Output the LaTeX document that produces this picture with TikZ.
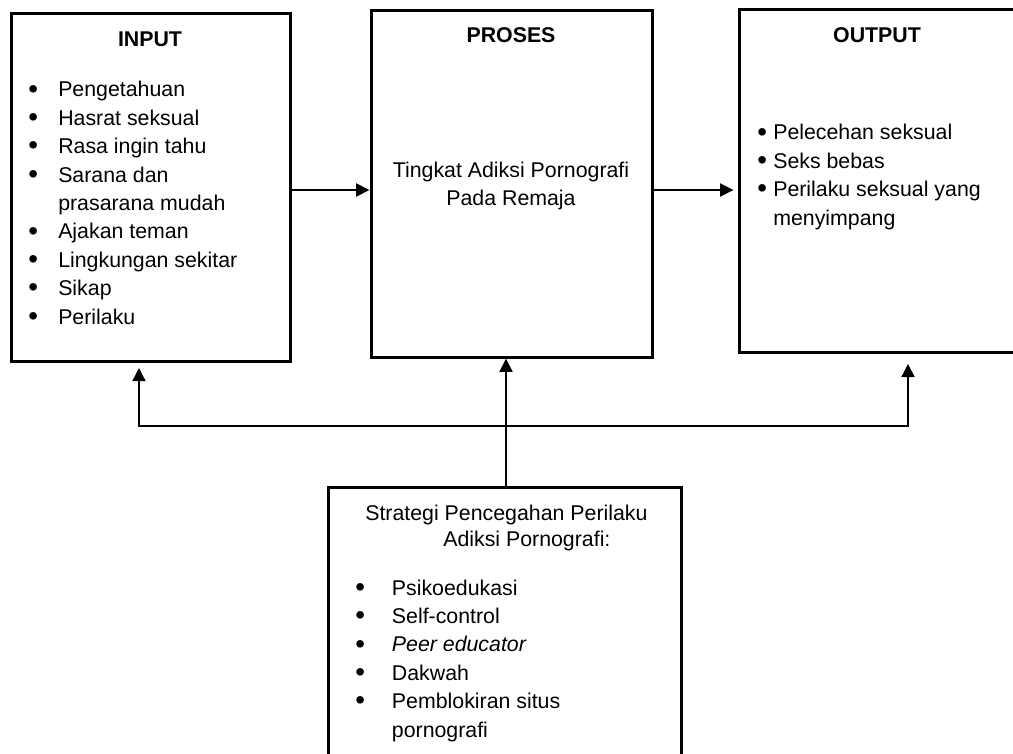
\documentclass[tikz,border=0pt]{standalone}
\usepackage{fontspec}
\setmainfont{Liberation Sans}
\usetikzlibrary{arrows.meta}
\newcommand{\blt}[1]{\makebox[#1][l]{\raisebox{-0.12ex}{\scalebox{1.3}{\textbullet}}}}

\begin{document}
\begin{tikzpicture}[
        x=0.75pt, y=-0.75pt,
        every node/.style={font=\fontsize{16pt}{21.3pt}\selectfont, inner sep=0pt},
        box/.style={draw, line width=2.25pt, rectangle},
        title/.style={font=\fontsize{16pt}{21.3pt}\selectfont\bfseries, anchor=base},
        list/.style={align=left, anchor=base west},
        arr/.style={line width=2.1pt, -{Triangle[length=10pt,width=9.5pt]}},
    ]
    \useasboundingbox (0,0) rectangle (1013,753);
    % boxes
    \node[box, minimum width=209.25pt, minimum height=261pt] (input) at (150.5,187) {};
    \node[box, minimum width=210.75pt, minimum height=260.25pt] (proses) at (511.5,183.5) {};
    \node[box, minimum width=207pt, minimum height=257.6pt] (output) at (877,181.25) {};
    \node[box, minimum width=264.75pt, minimum height=212.25pt] (strategi) at (504.5,628.5) {};
    % texts (base west = baseline of the last line)
    \node[title] (inputtitle) at (150,46) {INPUT};
    \node[title] (prosestitle) at (511,42) {PROSES};
    \node[title] (outputtitle) at (877,42) {OUTPUT};
    \node[list] (inputlist) at (28,324) {\blt{22.5pt}Pengetahuan\\
        \blt{22.5pt}Hasrat seksual\\
        \blt{22.5pt}Rasa ingin tahu\\
        \blt{22.5pt}Sarana dan\\
        \hspace*{22.5pt}prasarana mudah\\
        \blt{22.5pt}Ajakan teman\\
        \blt{22.5pt}Lingkungan sekitar\\
        \blt{22.5pt}Sikap\\
        \blt{22.5pt}Perilaku};
    \node[align=center] (prosestext) at (511,186) {Tingkat Adiksi Pornografi\\Pada Remaja};
    \node[list] (outputlist) at (757,225) {\blt{12pt}Pelecehan seksual\\
        \blt{12pt}Seks bebas\\
        \blt{12pt}Perilaku seksual yang\\
        \hspace*{12pt}menyimpang};
    \node[list, font=\fontsize{16pt}{19.5pt}\selectfont] (strategihead) at (365,546)
        {Strategi Pencegahan Perilaku\\\hspace*{58.5pt}Adiksi Pornografi:};
    \node[list] (strategilist) at (355,737) {\blt{27.5pt}Psikoedukasi\\
        \blt{27.5pt}Self-control\\
        \blt{27.5pt}\textit{Peer educator}\\
        \blt{27.5pt}Dakwah\\
        \blt{27.5pt}Pemblokiran situs\\
        \hspace*{27.5pt}pornografi};
    % connectors
    \coordinate (mid) at (0,190);
    \coordinate (hub) at (506,426);
    \coordinate (lft) at (139,426);
    \coordinate (rgt) at (908,426);
    \draw[arr] (input.east |- mid) -- (proses.west |- mid);
    \draw[arr, shorten >=3pt] (proses.east |- mid) -- (output.west |- mid);
    \draw[arr] (hub |- strategi.north) -- (hub |- proses.south);
    \draw[arr, shorten >=4pt] (hub) -| (lft |- input.south);
    \draw[arr, shorten >=7pt] (hub) -| (rgt |- output.south);
\end{tikzpicture}
\end{document}
